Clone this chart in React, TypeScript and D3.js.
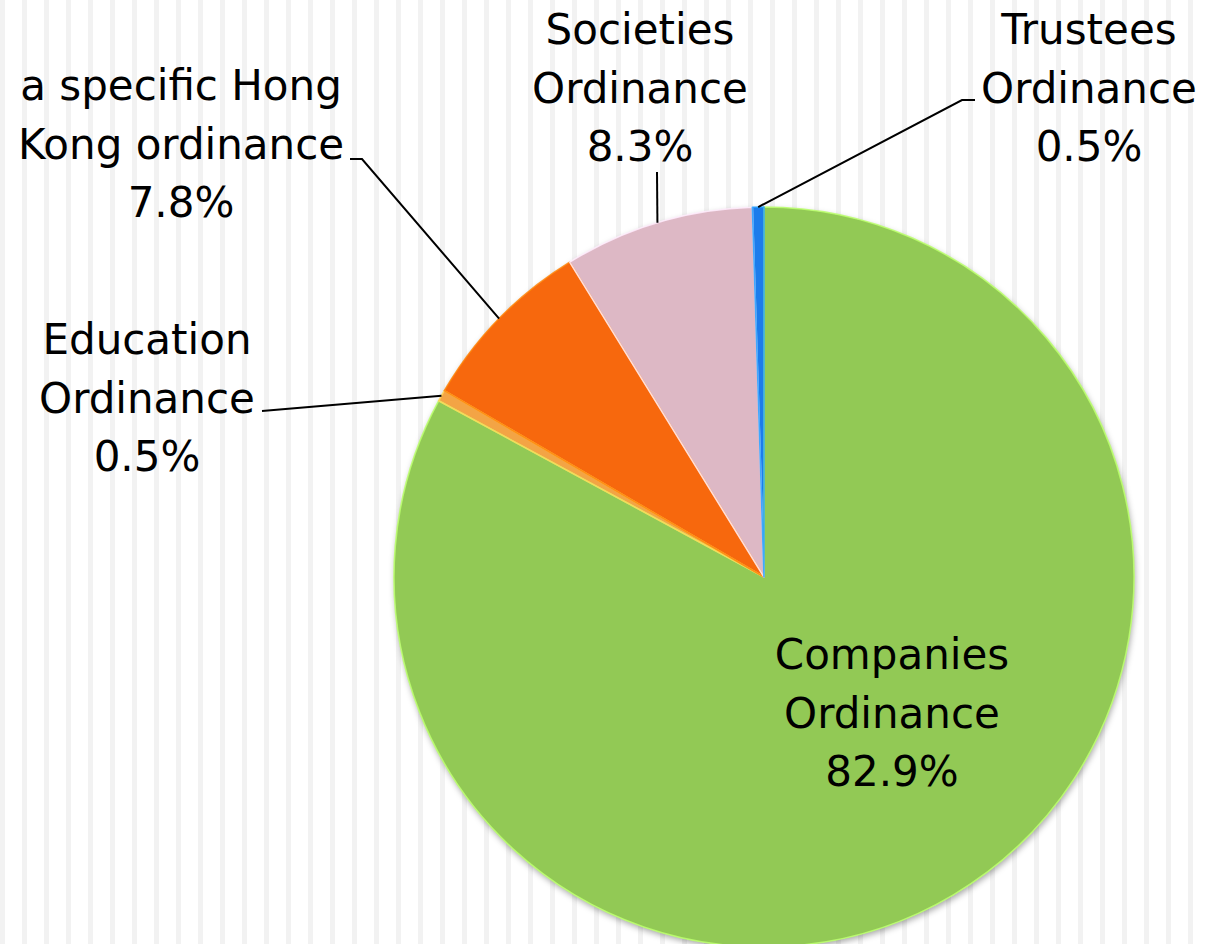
import React from 'react';
import * as d3 from 'd3';

const categories = ['Companies Ordinance', 'Education Ordinance', 'a specific Hong Kong ordinance', 'Societies Ordinance', 'Trustees Ordinance'];
const values = [82.9, 0.5, 7.8, 8.3, 0.5];
const percentLabels = ['82.9%', '0.5%', '7.8%', '8.3%', '0.5%'];
const labelLines = [
  ['Companies', 'Ordinance'],
  ['Education', 'Ordinance'],
  ['a specific Hong', 'Kong ordinance'],
  ['Societies', 'Ordinance'],
  ['Trustees', 'Ordinance'],
];
const colors = ['#92C954', '#F3A444', '#F76707', '#DDB8C5', '#1A7BEB'];

// layout (label anchor positions and leader elbows)
const W = 1207;
const H = 944;
const CX = 764;
const CY = 577;
const R = 370;
const FONT = 42;
const LINE_H = 58.5;
const labelLayout = [
  { x: 892, y: 669, leader: null as null | number[][] },
  { x: 147, y: 354, leader: [[262, 411]] },
  { x: 181, y: 100, leader: [[362, 159], [350, 159]] },
  { x: 640, y: 44, leader: [[657, 172]] },
  { x: 1089, y: 44, leader: [[962, 100], [975, 100]] },
];

export default function App() {
  const pie = d3.pie<number>().sort(null).value((d) => d).startAngle(0).endAngle(2 * Math.PI);
  const arcs = pie(values);
  const arc = d3.arc<d3.PieArcDatum<number>>().innerRadius(0).outerRadius(R);
  const stripes = d3.range(0, W, 22);

  return (
    <svg
      width={W}
      height={H}
      style={{ position: 'absolute', left: 0, top: 0, display: 'block', background: '#ffffff' }}
      fontFamily="'DejaVu Sans', sans-serif"
    >
      <defs>
        <filter id="shadow" x="-10%" y="-10%" width="120%" height="120%">
          <feDropShadow dx="1" dy="3" stdDeviation="3" floodColor="#000" floodOpacity="0.35" />
        </filter>
      </defs>
      <rect x={0} y={0} width={W} height={H} fill="#ffffff" />
      {stripes.map((x) => (
        <rect key={x} x={x} y={0} width={5} height={H} fill="#f2f2f2" />
      ))}
      <g transform={`translate(${CX},${CY})`}>
        <g filter="url(#shadow)">
          {arcs.map((a, i) => (
            <path key={i} d={arc(a) || ''} fill={colors[i]} />
          ))}
        </g>
        {arcs.map((a, i) => {
          const c = d3.color(colors[i])!;
          return (
            <path
              key={'h' + i}
              d={arc(a) || ''}
              fill="none"
              stroke={c.brighter(0.7).formatHex()}
              strokeWidth={1.6}
              strokeOpacity={0.85}
              strokeLinejoin="round"
            />
          );
        })}
      </g>
      {arcs.map((a, i) => {
        const lay = labelLayout[i];
        if (!lay.leader) return null;
        const mid = (a.startAngle + a.endAngle) / 2;
        const px = CX + Math.sin(mid) * R;
        const py = CY - Math.cos(mid) * R;
        const pts = [[px, py], ...lay.leader];
        return (
          <path
            key={'l' + i}
            d={d3.line()(pts as [number, number][]) || ''}
            fill="none"
            stroke="#000"
            strokeWidth={2}
          />
        );
      })}
      {arcs.map((a, i) => {
        const lay = labelLayout[i];
        const lines = [...labelLines[i], percentLabels[i]];
        return (
          <text key={'t' + i} x={lay.x} y={lay.y} textAnchor="middle" fontSize={FONT} fill="#000">
            {lines.map((ln, j) => (
              <tspan key={j} x={lay.x} y={lay.y + j * LINE_H}>
                {ln}
              </tspan>
            ))}
          </text>
        );
      })}
    </svg>
  );
}
